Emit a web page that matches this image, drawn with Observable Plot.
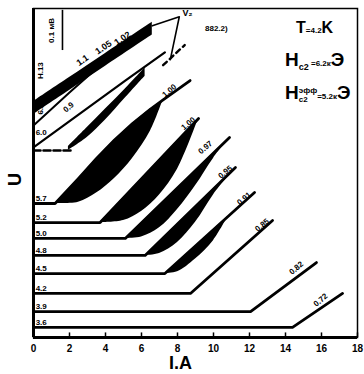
<!DOCTYPE html>
<html><head><meta charset="utf-8">
<script src="https://cdn.jsdelivr.net/npm/d3@7"></script>
<script src="https://cdn.jsdelivr.net/npm/@observablehq/plot@0.6"></script>
<style>
body{margin:0;background:#fff}
#chart{position:relative;width:364px;height:374px;overflow:hidden}
.ann{position:absolute;font-family:"Liberation Sans",Arial,sans-serif;font-weight:bold;color:#000;line-height:1;white-space:nowrap}
</style></head><body><div id="chart"></div>
<script>
// x ticks
const xTicks = [0,2,4,6,8,10,12,14,16,18];
// curves with flat part + linear rise (field labels at left, ratio labels at right)
const fieldLabels = ["3.6","3.9","4.2","4.5","4.8","5.0","5.2","5.7","6.0"];
const baseU = [0.55,1.42,2.41,3.50,4.49,5.42,6.29,7.33,10.23];
const kneeI = [14.39,12.06,8.72,7.3,6.2,5.1,3.7];
const endI = [17.17,15.72,13.28,12.28,11.22,10.89,9.17];
const endU = [2.41,4.10,6.40,7.93,9.30,10.94,11.98];
const ratioLabels = ["0.72","0.82","0.85","0.91","0.95","0.97","1.00","1.00","0.9"];
const ratioI = [15.95,14.6,12.7,11.7,10.65,9.55,8.6,7.55,1.95];
const ratioU = [2.05,3.8,6.15,7.6,9.05,10.4,11.7,13.5,12.6];
// 5.7 curve: hysteresis crescent
const c57I  = [1.2, 2.5, 3.5, 4.5, 5.5, 6.5, 7.2];
const c57Hi = [7.33, 8.7, 9.8, 10.8, 11.7, 12.5, 13.0];
const c57Lo = [7.33, 7.4, 7.9, 8.7, 9.8, 11.3, 13.0];
const c57TailI = [7.2, 8.7];
const c57TailU = [13.0, 14.06];
// 5.2 wedge
const w52I  = [3.7, 5, 6, 7, 8, 9.17];
const w52Lo = [6.29, 6.4, 6.9, 7.8, 9.2, 11.98];
// 5.0 wedge
const w50I  = [5.1, 6, 7, 8, 9, 10, 10.89];
const w50Lo = [5.42, 5.5, 6.0, 7.0, 8.3, 9.8, 10.94];
// 4.8 wedge
const w48I  = [6.2, 7, 8, 9, 10, 11.22];
const w48Lo = [4.49, 4.6, 5.2, 6.3, 7.8, 9.30];
// 4.5 wedge
const w45I  = [7.3, 8, 9, 10, 10.8];
const w45Lo = [3.50, 3.6, 4.3, 5.3, 6.6];
// 6.0 curve
const c60DashI = [0, 2.2];
const c60LineI = [0, 5.1, 7.3];
const c60LineU = [10.4, 14.06, 15.6];
const w60I  = [1.94, 3, 4, 5.1, 6.2];
const w60Lo = [10.23, 10.95, 11.9, 13.1, 14.3];
const w60Hi = [10.45, 11.5, 12.5, 13.6, 14.75];
const c60ExtI = [7.2, 8.4];
const c60ExtU = [14.9, 16.0];
// 6.2 curve
const c62I = [0, 2, 4.4];
const c62U = [11.6, 13.4, 15.5];
// top band
const bandI  = [0.1, 2, 4, 6.6];
const bandLo = [12.27, 13.52, 14.84, 16.55];
const bandHi = [12.97, 14.22, 15.54, 17.25];
const bandLabels = ["1.1","1.05","1.02"];
const bandLabI = [2.72, 3.89, 4.94];
const bandLabU = [15.16, 15.87, 16.36];
// leader lines from the V2 label
const leadI = [6.6, 8.1, 7.6];
const leadU = [17.05, 17.55, 15.2];
// scale bar
const barI = 1.61, barU = [15.7, 17.9];

const F = "Liberation Sans, Arial, sans-serif";
const lines = [];
for (let i = 0; i < kneeI.length; i++) {
  lines.push({c: i, I: 0, U: baseU[i]}, {c: i, I: kneeI[i], U: baseU[i]}, {c: i, I: endI[i], U: endU[i]});
}
lines.push({c: 7, I: 0, U: baseU[7]});
c57I.forEach((v, k) => lines.push({c: 7, I: v, U: c57Hi[k]}));
lines.push({c: 7, I: c57TailI[1], U: c57TailU[1]});
const wedge = (I, lo, hiFn) => I.map((v, k) => ({I: v, lo: lo[k], hi: hiFn(v, k)}));
const lineAt = i => v => baseU[i] + (endU[i] - baseU[i]) * (v - kneeI[i]) / (endI[i] - kneeI[i]);
const areas = [
  wedge(c57I, c57Lo, (v, k) => c57Hi[k]),
  wedge(w52I, w52Lo, lineAt(6)),
  wedge(w50I, w50Lo, lineAt(5)),
  wedge(w48I, w48Lo, lineAt(4)),
  wedge(w45I, w45Lo, lineAt(3)),
  wedge(w60I, w60Lo, (v, k) => w60Hi[k]),
  wedge(bandI, bandLo, (v, k) => bandHi[k])
];
const leftLab = fieldLabels.map((t, i) => ({t, I: 0.12, U: baseU[i] + (i === 8 ? 1.0 : 0.3)}));

const chart = Plot.plot({
  width: 364, height: 374,
  marginLeft: 33, marginRight: 7, marginTop: 8, marginBottom: 37,
  x: {domain: [0, 18]}, y: {domain: [0, 18], axis: null},
  style: {fontFamily: F, background: "#fff"},
  marks: [
    Plot.frame({strokeWidth: 1.5}),
    Plot.ruleX([0], {strokeWidth: 3}),
    Plot.ruleY([0], {strokeWidth: 3}),
    Plot.ruleX(xTicks, {y1: 0, y2: 0.25, strokeWidth: 1.5}),
    Plot.axisX({ticks: xTicks, tickSize: 0, tickPadding: 7, fontSize: 10, fontWeight: "bold", label: null}),
    Plot.text(["I.A"], {x: 8.17, y: 0, dy: 26, fontSize: 18, fontWeight: "bold", fontFamily: F}),
    Plot.text(["U"], {frameAnchor: "left", dx: -18, dy: 13, rotate: -90, fontSize: 18, fontWeight: "bold", fontFamily: F}),
    ...areas.map(a => Plot.areaY(a, {x: "I", y1: "lo", y2: "hi", fill: "#000", curve: "catmull-rom"})),
    Plot.line(lines, {x: "I", y: "U", z: "c", stroke: "#000", strokeWidth: 2.8}),
    Plot.line(c60DashI, {x: d => d, y: () => baseU[8], stroke: "#000", strokeWidth: 2.6, strokeDasharray: "7,3"}),
    Plot.line(c60LineI, {x: d => d, y: (d, i) => c60LineU[i], stroke: "#000", strokeWidth: 2.2}),
    Plot.line(c60ExtI, {x: d => d, y: (d, i) => c60ExtU[i], stroke: "#000", strokeWidth: 2.4, strokeDasharray: "5,4"}),
    Plot.line(c62I, {x: d => d, y: (d, i) => c62U[i], stroke: "#000", strokeWidth: 2}),
    Plot.line(leadI, {x: d => d, y: (d, i) => leadU[i], stroke: "#000", strokeWidth: 1.6}),
    Plot.ruleX([barI], {y1: barU[0], y2: barU[1], strokeWidth: 1.6}),
    Plot.text(["0.1 мВ"], {x: barI - 0.6, y: (barU[0] + barU[1]) / 2, rotate: -90, fontSize: 8, fontWeight: "bold", fontFamily: F}),
    Plot.text(["V₂"], {x: leadI[1] + 0.45, y: leadU[1] + 0.2, fontSize: 9, fontWeight: "bold", fontFamily: F}),
    Plot.text(leftLab, {x: "I", y: "U", text: "t", textAnchor: "start", fontSize: 8, fontWeight: "bold", fontFamily: F}),
    Plot.text(["6.2"], {x: 0.4, y: 12.5, rotate: -90, fontSize: 8, fontWeight: "bold", fontFamily: F}),
    Plot.text(["H.13"], {x: 0.4, y: 14.6, rotate: -90, fontSize: 8, fontWeight: "bold", fontFamily: F}),
    Plot.text(ratioLabels, {x: (d, i) => ratioI[i], y: (d, i) => ratioU[i], rotate: -40, fontSize: 8, fontWeight: "bold", fontFamily: F}),
    Plot.text(bandLabels, {x: (d, i) => bandLabI[i], y: (d, i) => bandLabU[i], rotate: -34, fontSize: 9, fontWeight: "bold", fontFamily: F})
  ]
});
const root = document.getElementById("chart");
root.appendChild(chart);
root.insertAdjacentHTML("beforeend", `
<div class="ann" style="left:205px;top:25px;font-size:8px">882.2)</div>
<div class="ann" style="left:296px;top:20px;font-size:16px">T<span style="font-size:8px">=4.2</span>K</div>
<div class="ann" style="left:285px;top:50px;font-size:19px">H<span style="font-size:9px;vertical-align:-4px">c2</span><span style="font-size:8px"> =6.2к</span>Э</div>
<div class="ann" style="left:285px;top:83px;font-size:19px">H<span style="display:inline-block;font-size:8px;line-height:9px;vertical-align:-3px">эфф<br>c2</span><span style="font-size:8px">=5.2к</span>Э</div>
`);
</script></body></html>
